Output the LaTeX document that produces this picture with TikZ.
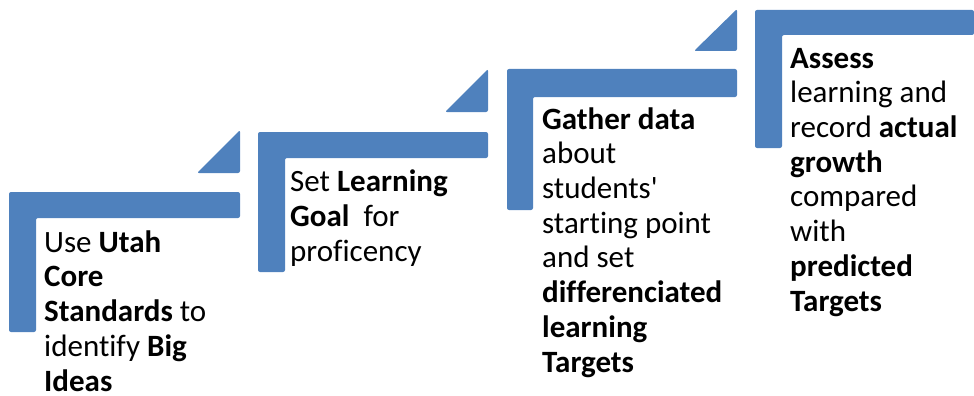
\documentclass[tikz,border=0pt]{standalone}
\usepackage{fontspec}
\setmainfont{Carlito}[Ligatures={TeXOff,NoCommon}]
\definecolor{stepblue}{HTML}{4F81BD}

\begin{document}
\begin{tikzpicture}[x=1pt,y=-1pt,
        stair/.style={fill=stepblue,rounded corners=2pt},
        steptext/.style={anchor=base west,align=left,inner sep=0pt,
                         font=\fontsize{31}{34.7}\selectfont}]
        \useasboundingbox (0,0) rectangle (974,396);
        % first step (text is placed by the baseline of its last line)
        \fill[stair] (9,192) -- ++(231,0) -- ++(0,26) -- ++(-204,0)
              -- ++(0,114) -- ++(-27,0) -- cycle;
        \fill[stair] (240,173) -- ++(-43,0) -- ++(43,-43) -- cycle;
        \node[steptext] (usecore) at (44,391)
              {Use \textbf{Utah}\\ \textbf{Core}\\ \textbf{Standards} to\\
               identify \textbf{Big}\\ \textbf{Ideas}};
        % second step
        \fill[stair] (258,132) -- ++(230,0) -- ++(0,26) -- ++(-203,0)
              -- ++(0,114) -- ++(-27,0) -- cycle;
        \fill[stair] (488,112) -- ++(-43,0) -- ++(43,-43) -- cycle;
        \node[steptext] (setgoal) at (290,261)
              {Set \textbf{Learning}\\ \textbf{Goal}~ for\\ proficency};
        % third step
        \fill[stair] (507,69) -- ++(230,0) -- ++(0,28) -- ++(-204,0)
              -- ++(0,113) -- ++(-26,0) -- cycle;
        \fill[stair] (737,51) -- ++(-43,0) -- ++(43,-42) -- cycle;
        \node[steptext] (gather) at (542,372)
              {\textbf{Gather data}\\ about\\ students'\\ starting point\\
               and set\\ \textbf{differenciated}\\ \textbf{learning}\\ \textbf{Targets}};
        % top step
        \fill[stair] (755,10) -- (974,10) -- (974,35) -- (782,35)
              -- (782,148) -- (755,148) -- cycle;
        \node[steptext] (assess) at (790,311)
              {\textbf{Assess}\\ learning and\\ record \textbf{actual}\\ \textbf{growth}\\
               compared\\ with\\ \textbf{predicted}\\ \textbf{Targets}};
\end{tikzpicture}
\end{document}
